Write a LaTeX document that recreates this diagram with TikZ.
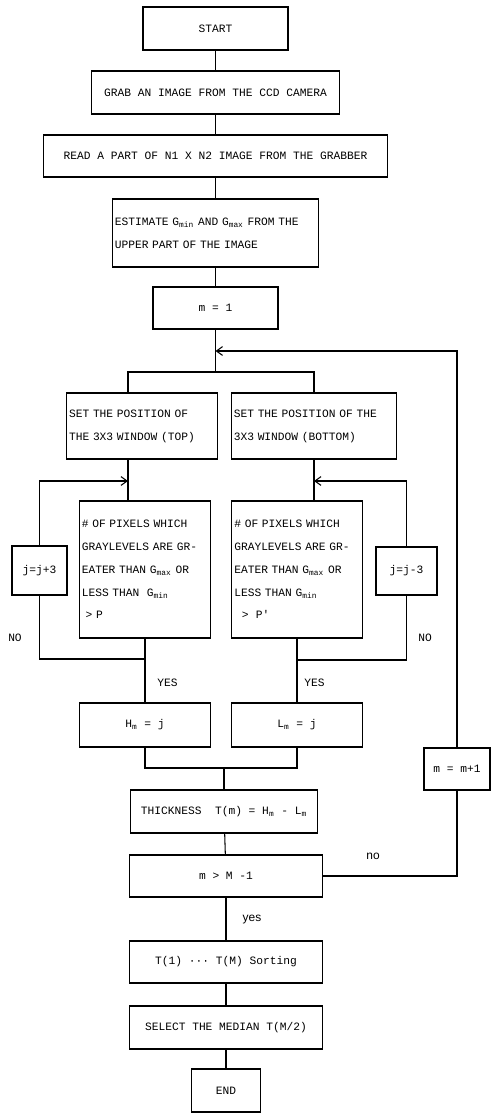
\documentclass[tikz,border=0pt]{standalone}
\usepackage{fontspec}
\newfontfamily\flowfont{Liberation Mono}
\newfontfamily\flowlabelfont{Liberation Sans}
\usetikzlibrary{arrows.meta}

\begin{document}
\begin{tikzpicture}[x=0.02cm, y=-0.02cm,
        font=\flowfont\fontsize{6.4}{13}\selectfont,
        line width=0.6pt,
        box/.style={draw, inner sep=1.5pt},
        textbox/.style={box, align=left},
        smalllabel/.style={font=\flowlabelfont\fontsize{6.8}{8}\selectfont},
        loop/.style={-{Straight Barb[length=3.5pt, width=5pt]}}]

        \useasboundingbox (0,0) rectangle (492,1113);

        % ---------------------------------------------------
        % 1. Main column (top)
        % ---------------------------------------------------
        \node[box, minimum width=2.9cm, minimum height=0.86cm] (start) at (215.5,28.5) {START};
        \node[box, minimum width=4.96cm, minimum height=0.86cm] (grab) at (215.5,92.5) {GRAB AN IMAGE FROM THE CCD CAMERA};
        \node[box, minimum width=6.9cm, minimum height=0.84cm] (read) at (215.5,156) {READ A PART OF N1 X N2 IMAGE FROM THE GRABBER};
        \node[textbox, text width=4.03cm, minimum height=1.36cm] (estimate) at (215.5,233)
            {ESTIMATE G\textsubscript{min} AND G\textsubscript{max} FROM THE\\UPPER PART OF THE IMAGE};
        \node[box, minimum width=2.5cm, minimum height=0.84cm] (mone) at (215.5,308) {m = 1};

        % ---------------------------------------------------
        % 2. Two branches (top / bottom window)
        % ---------------------------------------------------
        \node[textbox, text width=2.92cm, minimum height=1.32cm] (settop) at (142,426) {SET THE POSITION OF\\THE 3X3 WINDOW (TOP)};
        \node[textbox, text width=3.21cm, minimum height=1.32cm] (setbot) at (314,426) {SET THE POSITION OF THE\\3X3 WINDOW (BOTTOM)};

        \node[textbox, text width=2.53cm, minimum height=2.74cm] (pixtop) at (145,569.5)
            {\# OF PIXELS WHICH\\GRAYLEVELS ARE GR-\\EATER THAN G\textsubscript{max} OR\\LESS THAN~~G\textsubscript{min}\\~> P};
        \node[textbox, text width=2.51cm, minimum height=2.74cm] (pixbot) at (297,569.5)
            {\# OF PIXELS WHICH\\GRAYLEVELS ARE GR-\\EATER THAN G\textsubscript{max} OR\\LESS THAN G\textsubscript{min}\\~~>~~P'};

        \node[box, minimum width=1.1cm, minimum height=0.98cm] (jplus) at (39.5,570.5) {j=j+3};
        \node[box, minimum width=1.22cm, minimum height=0.96cm] (jminus) at (406.5,571) {j=j-3};

        \node[box, minimum width=2.62cm, minimum height=0.88cm] (hm) at (145,725) {H\textsubscript{m} = j};
        \node[box, minimum width=2.62cm, minimum height=0.88cm] (lm) at (297,725) {L\textsubscript{m} = j};

        % ---------------------------------------------------
        % 3. Main column (bottom) and counter
        % ---------------------------------------------------
        \node[box, minimum width=3.74cm, minimum height=0.86cm] (thick) at (224,811.5) {THICKNESS~~T(m) = H\textsubscript{m} - L\textsubscript{m}};
        \node[box, minimum width=1.32cm, minimum height=0.84cm] (mnext) at (457,769) {m = m+1};
        \node[box, minimum width=3.86cm, minimum height=0.84cm] (cond) at (226,876) {m > M -1};
        \node[box, minimum width=3.86cm, minimum height=0.84cm] (sort) at (226,962) {T(1) ··· T(M) Sorting};
        \node[box, minimum width=3.86cm, minimum height=0.86cm] (select) at (226,1027.5) {SELECT THE MEDIAN T(M/2)};
        \node[box, minimum width=1.38cm, minimum height=0.86cm] (end) at (226,1090.5) {END};

        % ---------------------------------------------------
        % 4. Connectors
        % ---------------------------------------------------
        \coordinate (loopin) at (215.5,351);
        \coordinate (fork) at (215.5,372);
        \coordinate (leftcol) at (128,372);
        \coordinate (rightcol) at (314,372);
        \coordinate (topjoin) at (128,481);
        \coordinate (botjoin) at (314,481);
        \coordinate (topmerge) at (145,659);
        \coordinate (botmerge) at (297,660);
        \coordinate (join) at (224,768);

        \draw (start) -- (grab);
        \draw (grab) -- (read);
        \draw (read) -- (estimate);
        \draw (estimate) -- (mone);
        \draw (mone) -- (fork);

        % split into the two windows
        \draw (leftcol |- settop.north) -- (leftcol) -- (rightcol) -- (setbot.north);
        \draw (leftcol |- settop.south) -- (leftcol |- pixtop.north);
        \draw (setbot.south) -- (setbot.south |- pixbot.north);

        % j loops
        \draw[loop] (jplus.north) |- (topjoin);
        \draw[loop] (jminus.north) |- (botjoin);
        \draw (jplus.south) |- (topmerge);
        \draw (jminus.south) |- (botmerge);
        \draw (pixtop) -- (hm);
        \draw (pixbot) -- (lm);

        % merge and lower column
        \draw (hm.south) |- (join) -| (lm.south);
        \draw (join) -- (thick);
        \draw (thick) -- (cond);
        \draw (cond) -- (sort);
        \draw (sort) -- (select);
        \draw (select) -- (end);

        % m loop
        \draw (cond) -| (mnext);
        \draw[loop] (mnext) |- (loopin);

        % ---------------------------------------------------
        % 5. Labels
        % ---------------------------------------------------
        \node (notop) at (15,638) {NO};
        \node[anchor=west] (nobot) at (412,638) {NO};
        \node[anchor=west] (yestop) at (151,683) {YES};
        \node[anchor=west] (yesbot) at (298,683) {YES};
        \node[smalllabel] (yes) at (252,920) {yes};
        \node[smalllabel] (no) at (373,856) {no};

\end{tikzpicture}
\end{document}
